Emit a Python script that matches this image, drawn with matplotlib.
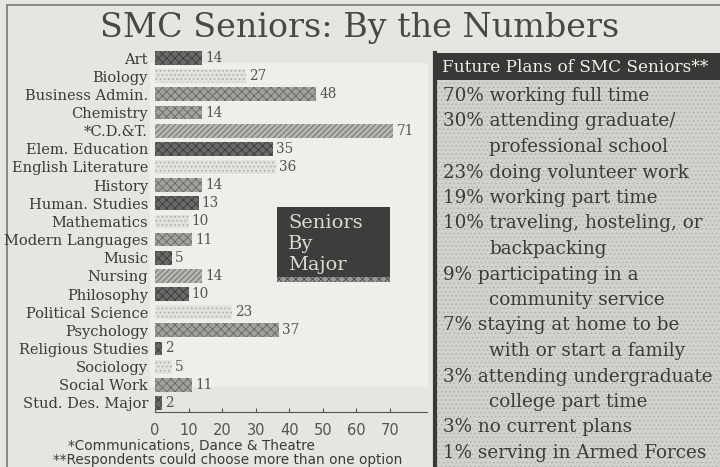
import matplotlib.pyplot as plt
from matplotlib.patches import Rectangle

# seniors by major
majors = ["Art", "Biology", "Business Admin.", "Chemistry", "*C.D.&T.",
          "Elem. Education", "English Literature", "History", "Human. Studies",
          "Mathematics", "Modern Languages", "Music", "Nursing", "Philosophy",
          "Political Science", "Psychology", "Religious Studies", "Sociology",
          "Social Work", "Stud. Des. Major"]
seniors = [14, 27, 48, 14, 71, 35, 36, 14, 13, 10, 11, 5, 14, 10, 23, 37, 2, 5, 11, 2]
x_ticks = [0, 10, 20, 30, 40, 50, 60, 70]

# future plans (first line, continuation)
plans = [
    ("70% working full time", None),
    ("30% attending graduate/", "professional school"),
    ("23% doing volunteer work", None),
    ("19% working part time", None),
    ("10% traveling, hosteling, or", "backpacking"),
    ("9% participating in a", "community service"),
    ("7% staying at home to be", "with or start a family"),
    ("3% attending undergraduate", "college part time"),
    ("3% no current plans", None),
    ("1% serving in Armed Forces", None),
]

footnotes = ["*Communications, Dance & Theatre",
             "**Respondents could choose more than one option"]

plt.rcParams["hatch.linewidth"] = 0.6
SERIF = "DejaVu Serif"
SANS = "DejaVu Sans"
paper = "#e6e5e2"

styles = {
    "dark":   dict(facecolor="#6b6967", edgecolor="#3b3a39", hatch="xxxx"),
    "light":  dict(facecolor="#e2e1de", edgecolor="#a9a8a6", hatch="...."),
    "medium": dict(facecolor="#a3a19e", edgecolor="#676563", hatch="xxxx"),
    "diag":   dict(facecolor="#b7b5b2", edgecolor="#6a6866", hatch="//////"),
}
bar_styles = ["dark", "light", "medium", "medium", "diag", "dark", "light",
              "medium", "dark", "light", "medium", "dark", "diag", "dark",
              "light", "medium", "dark", "light", "medium", "dark"]

fig = plt.figure(figsize=(7.2, 4.67), dpi=100, facecolor=paper)

# full-figure layer in pixel coordinates for decorations
bg = fig.add_axes([0, 0, 1, 1], zorder=0)
bg.set_xlim(0, 720)
bg.set_ylim(467, 0)
bg.axis("off")

bg.add_patch(Rectangle((150, 63), 278, 324, facecolor="#efeeeb", edgecolor="none"))
bg.plot([7, 720], [5, 5], color="#777777", lw=1.2)
bg.plot([7, 7], [5, 467], color="#777777", lw=1.2)

bg.text(360, 37, "SMC Seniors: By the Numbers", family=SERIF, fontsize=24,
        color="#4a4847", ha="center", va="baseline")

# "Seniors By Major" box
bg.add_patch(Rectangle((277, 276), 113, 6, facecolor="#9a9896",
                       edgecolor="#4a4846", hatch="xxxx", lw=0))
bg.add_patch(Rectangle((277, 207), 113, 70, facecolor="#3f3d3b", edgecolor="none"))
for i, word in enumerate(["Seniors", "By", "Major"]):
    bg.text(288, 223 + i * 21, word, family=SERIF, fontsize=14,
            color="#dcdad6", ha="left", va="center")

# future plans panel
bg.add_patch(Rectangle((436, 53), 284, 414, facecolor="#d2d1ce",
                       edgecolor="#b2b1ae", hatch="....", lw=0))
bg.add_patch(Rectangle((434, 53), 286, 27, facecolor="#3a3836", edgecolor="none"))
bg.plot([435, 435], [53, 467], color="#3a3836", lw=3)
bg.text(442, 67, "Future Plans of SMC Seniors**", family=SERIF, fontsize=12.2,
        color="#f2f0ec", ha="left", va="center")

y = 96
for first, cont in plans:
    bg.text(443, y, first, family=SERIF, fontsize=13.2, color="#3b3a39",
            ha="left", va="center")
    y += 25.5
    if cont:
        bg.text(489, y, cont, family=SERIF, fontsize=13.2, color="#3b3a39",
                ha="left", va="center")
        y += 25.5

bg.text(191, 446, footnotes[0], family=SANS, fontsize=9.8, color="#3b3a39",
        ha="center", va="center")
bg.text(228, 460, footnotes[1], family=SANS, fontsize=9.8, color="#3b3a39",
        ha="center", va="center")

# bar chart
ax = fig.add_axes([155 / 720, 1 - 412 / 467, 272 / 720, 363 / 467], zorder=1)
ax.patch.set_visible(False)
pos = list(range(len(majors)))
for p, v, s in zip(pos, seniors, bar_styles):
    ax.barh(p, v, height=0.76, lw=0, **styles[s])
    ax.text(v + 0.9, p, str(v), family=SERIF, fontsize=9.8, color="#555452",
            ha="left", va="center")

ax.set_ylim(len(majors) - 0.5, -0.5)
ax.set_xlim(0, 81)
ax.set_yticks(pos)
ax.set_yticklabels(majors, family=SERIF, fontsize=10.5, color="#3b3a39")
ax.set_xticks(x_ticks)
ax.set_xticklabels([str(t) for t in x_ticks], family=SANS, fontsize=10.5,
                   color="#555452")
ax.tick_params(axis="y", length=0, pad=5)
ax.tick_params(axis="x", direction="in", length=3, color="#555452", pad=8)
for side in ["top", "right", "left"]:
    ax.spines[side].set_visible(False)
ax.spines["bottom"].set_color("#555452")

fig.savefig("out.png", dpi=100, facecolor=paper)
